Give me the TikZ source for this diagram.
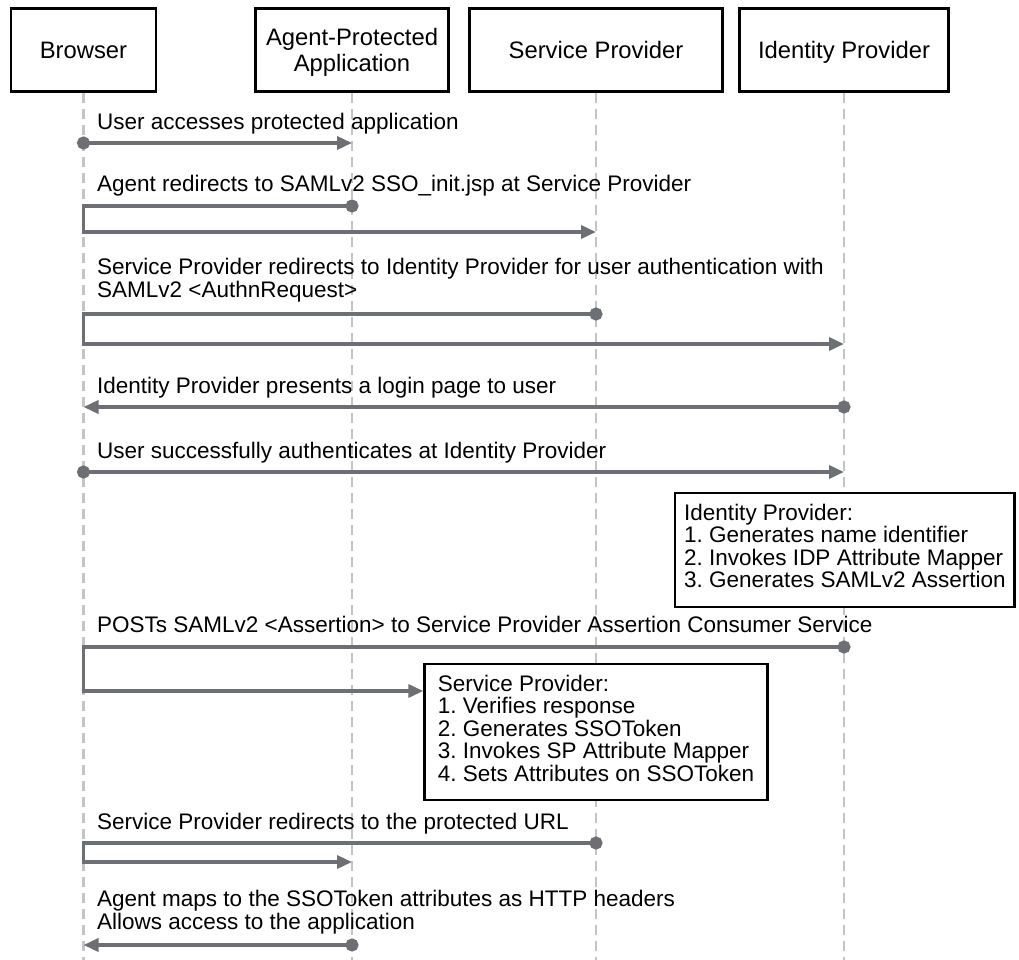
\documentclass[tikz,border=0pt]{standalone}
\usepackage{fontspec}
\setmainfont{Liberation Sans}
\frenchspacing
\usetikzlibrary{arrows.meta, positioning}
\definecolor{MsgG}{RGB}{110,111,116}
\definecolor{LifeG}{RGB}{196,196,196}

\begin{document}
\begin{tikzpicture}[x=1pt, y=-1pt,
  actor/.style={draw=black, line width=2.6pt, fill=white, minimum height=83pt,
                minimum width=#1, inner sep=0pt, align=center, text depth=0pt,
                font=\fontsize{23.8}{26.7}\selectfont},
  life/.style={draw=LifeG, line width=2.4pt, dash pattern=on 10pt off 6pt},
  msg/.style={draw=MsgG, line width=3.5pt,
              {Circle[length=13pt]}-{Triangle[length=15pt, width=13pt]},
              shorten <=-6.5pt},
  lbl/.style={anchor=base west, inner sep=0pt, align=left,
              font=\fontsize{22.5}{23}\selectfont},
  note/.style={draw=black, line width=2.4pt, fill=white, anchor=north west,
               minimum width=#1, align=left, inner xsep=9pt, inner ysep=11pt,
               text depth=8pt, font=\fontsize{22.5}{22.5}\selectfont}
]
\useasboundingbox (0,0) rectangle (1019,960);

\node[actor=145pt] (br) at (83.5,50) {Browser};
\node[actor=193pt] (ap) at (352,50)  {Agent-Protected\\Application};
\node[actor=253pt] (sp) at (596,50)  {Service Provider};
\node[actor=209pt] (ip) at (844,50)  {Identity Provider};

\foreach \a in {br,ap,sp,ip} {
  \coordinate (\a-end) at (\a.south |- 0,960);
  \draw[life] (\a.south) -- (\a-end);
}

\node[note=339pt] (ipnote) at (674,491.7)
  {Identity Provider:\\1. Generates name identifier\\2. Invokes IDP Attribute Mapper\\3. Generates SAMLv2 Assertion};
\node[note=343pt] (spnote) at (423.3,662.7)
  {Service Provider:\\1. Verifies response\\2. Generates SSOToken\\3. Invokes SP Attribute Mapper\\4. Sets Attributes on SSOToken};

% messages, top to bottom
\coordinate (m1a) at (br |- 0,143);
\coordinate (m1b) at (ap |- 0,143);
\coordinate (m2a) at (ap |- 0,206);
\coordinate (m2b) at (br |- 0,232);
\coordinate (m3a) at (sp |- 0,314);
\coordinate (m3b) at (br |- 0,344);
\coordinate (m4a) at (ip |- 0,407);
\coordinate (m4b) at (br |- 0,407);
\coordinate (m5a) at (br |- 0,472);
\coordinate (m5b) at (ip |- 0,472);
\coordinate (m7a) at (ip |- 0,647);
\coordinate (m7b) at (br |- 0,691);
\coordinate (m9a) at (sp |- 0,843);
\coordinate (m9b) at (br |- 0,862);
\coordinate (m10a) at (ap |- 0,945);
\coordinate (m10b) at (br |- 0,945);

\draw[msg] (m1a) -- (m1b);
\draw[msg] (m2a) -- (m2a -| br) -- (m2b) -- (m2b -| sp);
\draw[msg] (m3a) -- (m3a -| br) -- (m3b) -- (m3b -| ip);
\draw[msg] (m4a) -- (m4b);
\draw[msg] (m5a) -- (m5b);
\draw[msg] (m7a) -- (m7a -| br) -- (m7b) -- (m7b -| spnote.west);
\draw[msg] (m9a) -- (m9a -| br) -- (m9b) -- (m9b -| ap);
\draw[msg] (m10a) -- (m10b);

\node[lbl] (t1) at (97,130) {User accesses protected application};
\node[lbl] (t2) at (97,192) {Agent redirects to SAMLv2 SSO\_init.jsp at Service Provider};
\node[lbl] (t3) at (97,297) {Service Provider redirects to Identity Provider for user authentication with\\SAMLv2 <AuthnRequest>};
\node[lbl] (t4) at (97,393) {Identity Provider presents a login page to user};
\node[lbl] (t5) at (97,458) {User successfully authenticates at Identity Provider};
\node[lbl] (t7) at (97,632) {POSTs SAMLv2 <Assertion> to Service Provider Assertion Consumer Service};
\node[lbl] (t9) at (97,829) {Service Provider redirects to the protected URL};
\node[lbl] (t10) at (97,929) {Agent maps to the SSOToken attributes as HTTP headers\\Allows access to the application};
\end{tikzpicture}
\end{document}
